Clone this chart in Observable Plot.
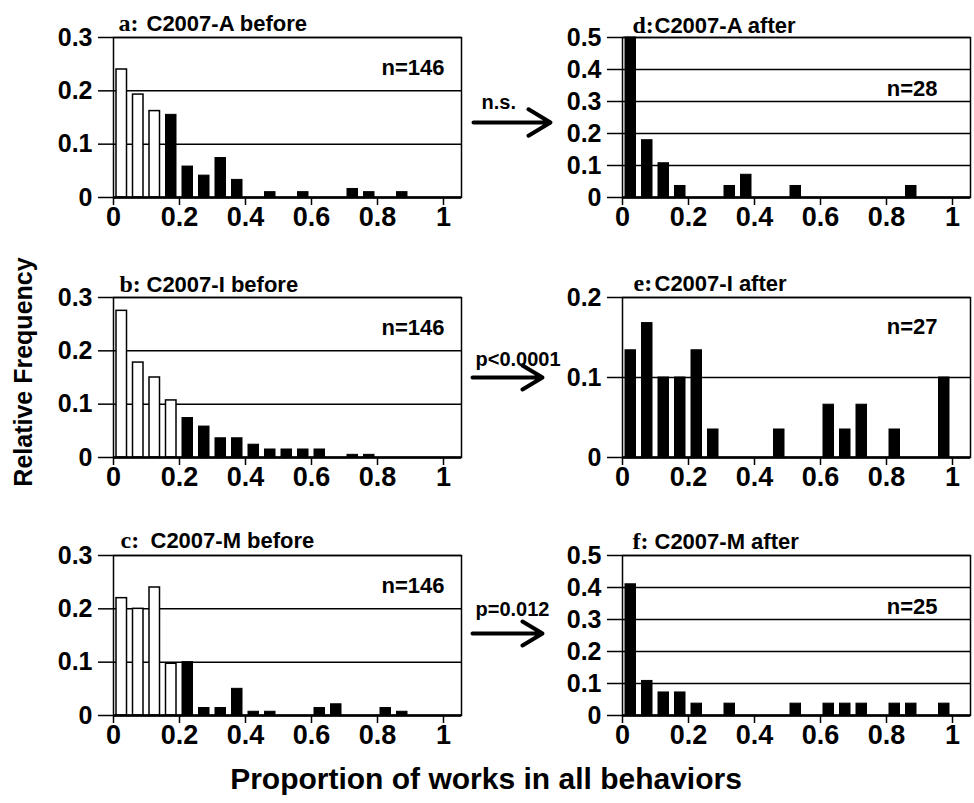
<!DOCTYPE html>
<html><head><meta charset="utf-8">
<script src="https://cdn.jsdelivr.net/npm/d3@7"></script>
<script src="https://cdn.jsdelivr.net/npm/@observablehq/plot@0.6"></script>
<style>
body{margin:0;background:#fff;}
#root{position:relative;width:974px;height:803px;overflow:hidden;background:#fff;font-family:Arial,"Liberation Sans",Helvetica,sans-serif;color:#000;}
.axtitle{position:absolute;font-weight:bold;white-space:nowrap;line-height:1;}
</style></head><body><div id="root"></div>
<script>
// ---------- data ----------
const binStarts = [0,0.05,0.1,0.15,0.2,0.25,0.3,0.35,0.4,0.45,0.5,0.55,0.6,0.65,0.7,0.75,0.8,0.85,0.9,0.95];
const binWidth = 0.05;
const panelLetters = ["a","b","c","d","e","f"];
const panelNames = ["C2007-A before","C2007-I before","C2007-M before","C2007-A after","C2007-I after","C2007-M after"];
const sampleSizes = [146,146,146,28,27,25];
const freqABefore = [0.24,0.193,0.162,0.155,0.058,0.041,0.074,0.033,0,0.01,0,0.01,0,0,0.016,0.01,0,0.01,0,0];
const freqIBefore = [0.275,0.178,0.15,0.107,0.074,0.058,0.036,0.036,0.024,0.015,0.015,0.015,0.015,0,0.005,0.005,0,0,0,0];
const freqMBefore = [0.22,0.2,0.24,0.097,0.1,0.014,0.014,0.05,0.007,0.007,0,0,0.014,0.021,0,0,0.014,0.007,0,0];
const freqAAfter  = [0.5,0.179,0.107,0.036,0,0,0.036,0.071,0,0,0.036,0,0,0,0,0,0,0.036,0,0];
const freqIAfter  = [0.134,0.168,0.1,0.1,0.134,0.035,0,0,0,0.035,0,0,0.066,0.035,0.066,0,0.035,0,0,0.1];
const freqMAfter  = [0.41,0.108,0.072,0.072,0.037,0,0.037,0,0,0,0.037,0,0.037,0.037,0.037,0,0.037,0.037,0,0.037];
const hollowBins = [3,4,4,0,0,0];       // leading bins drawn as open (white) bars
const yMax = [0.3,0.3,0.3,0.5,0.2,0.5];
const xTicks = [0,0.2,0.4,0.6,0.8,1];
const significance = ["n.s.","p<0.0001","p=0.012"];
const yAxisTitle = "Relative Frequency";
const xAxisTitle = "Proportion of works in all behaviors";

const freqs = [freqABefore,freqIBefore,freqMBefore,freqAAfter,freqIAfter,freqMAfter];

// ---------- layout ----------
const FONT = "Arial, 'Liberation Sans', Helvetica, sans-serif";
const SERIF = "'Liberation Serif', 'Times New Roman', serif";
const plotTops = [37,297,555];
const colLeft = [0,490];
const colWidth = [480,484];
const colMarginLeft = [113,132];
const colMarginRight = [19,4];
const MT = 37, PH = 160, MB = 40;
const titleLetterDx = [5,6,7,10,11,10];
const titleNameDx = [33,33,37,32,32,32];
const titleDy = [-7,-6,-8,-5,-7,-7];
const nDx = [-17,-17,-17,-33,-33,-33];
const nDy = [37,37,37,58,36,58];
const root = document.getElementById("root");

function fmt(d){ return d === 0 ? "0" : String(+d.toFixed(1)); }

for (let i = 0; i < 6; i++) {
  const col = i < 3 ? 0 : 1, row = i % 3;
  const rows = binStarts.map((x0,k) => ({x1:x0, x2:x0+binWidth, y:freqs[i][k], hollow:k < hollowBins[i]}))
    .filter(d => d.y > 0);
  const yTicks = d3.range(0, yMax[i] + 1e-9, 0.1).map(v => +v.toFixed(1));
  const plotW = colWidth[col] - colMarginLeft[col] - colMarginRight[col];
  const svg = Plot.plot({
    width: colWidth[col], height: MT + PH + MB,
    marginTop: MT, marginBottom: MB, marginLeft: colMarginLeft[col], marginRight: colMarginRight[col],
    x: {domain: [0, plotW / 330]},
    y: {domain: [0, yMax[i]]},
    style: {background: "transparent", overflow: "visible", fontFamily: FONT, color: "black"},
    marks: [
      Plot.ruleY(yTicks, {stroke: "black", strokeWidth: 1.5}),
      Plot.rectY(rows.filter(d => d.hollow), {x1: "x1", x2: "x2", y: "y", fill: "white", stroke: "black", strokeWidth: 1.5, insetLeft: 3, insetRight: 3}),
      Plot.rectY(rows.filter(d => !d.hollow), {x1: "x1", x2: "x2", y: "y", fill: "black", stroke: "black", strokeWidth: 1, insetLeft: 3, insetRight: 3}),
      Plot.frame({stroke: "black", strokeWidth: 1.5}),
      Plot.ruleY([0], {stroke: "black", strokeWidth: 2.5}),
      Plot.axisX(xTicks, {tickSize: 8, tickPadding: 1, fontSize: 27, fontWeight: "bold", tickFormat: fmt, strokeWidth: 1.5, label: null}),
      Plot.axisY(yTicks, {tickSize: 15, tickPadding: 6, fontSize: 25, fontWeight: "bold", tickFormat: fmt, strokeWidth: 1.5, label: null}),
      Plot.text([panelLetters[i] + ":"], {frameAnchor: "top-left", dx: titleLetterDx[i], dy: titleDy[i], lineAnchor: "bottom", textAnchor: "start", fontSize: 24, fontWeight: "bold", fontFamily: SERIF}),
      Plot.text([panelNames[i]], {frameAnchor: "top-left", dx: titleNameDx[i], dy: titleDy[i], lineAnchor: "bottom", textAnchor: "start", fontSize: 22, fontWeight: "bold"}),
      Plot.text([`n=${sampleSizes[i]}`], {frameAnchor: "top-right", dx: nDx[i], dy: nDy[i], lineAnchor: "bottom", textAnchor: "end", fontSize: 22, fontWeight: "bold"})
    ]
  });
  svg.style.position = "absolute";
  svg.style.left = colLeft[col] + "px";
  svg.style.top = (plotTops[row] - MT) + "px";
  root.appendChild(svg);
}

// arrows between columns
const arrowLeft = [473,472,472];
const arrowLen = [77,70,70];
const arrowY = [122,377,633];
const labelDx = [8,3,3];
const labelDy = [6,8,2];
for (let r = 0; r < 3; r++) {
  const svg = Plot.plot({
    width: arrowLen[r], height: 40, margin: 0,
    x: {domain: [0,1], axis: null}, y: {domain: [0,1], axis: null},
    style: {background: "transparent", overflow: "visible", fontFamily: FONT, color: "black"},
    marks: [
      Plot.arrow([significance[r]], {x1: () => 0, x2: () => 1, y1: () => 0.5, y2: () => 0.5, stroke: "black", strokeWidth: 4, headLength: 17, headAngle: 62}),
      Plot.text([significance[r]], {frameAnchor: "top-left", dx: labelDx[r], dy: labelDy[r], lineAnchor: "bottom", textAnchor: "start", fontSize: 20, fontWeight: "bold"})
    ]
  });
  svg.style.position = "absolute";
  svg.style.left = arrowLeft[r] + "px";
  svg.style.top = (arrowY[r] - 20) + "px";
  root.appendChild(svg);
}

// axis titles
const yt = document.createElement("div");
yt.className = "axtitle"; yt.textContent = yAxisTitle;
yt.style.fontSize = "25px"; yt.style.left = "23px"; yt.style.top = "372px";
yt.style.transform = "translate(-50%,-50%) rotate(-90deg)";
root.appendChild(yt);
const xt = document.createElement("div");
xt.className = "axtitle"; xt.textContent = xAxisTitle;
xt.style.fontSize = "30px"; xt.style.left = "486px"; xt.style.top = "779px";
xt.style.transform = "translate(-50%,-50%)";
root.appendChild(xt);
</script>
</body></html>
